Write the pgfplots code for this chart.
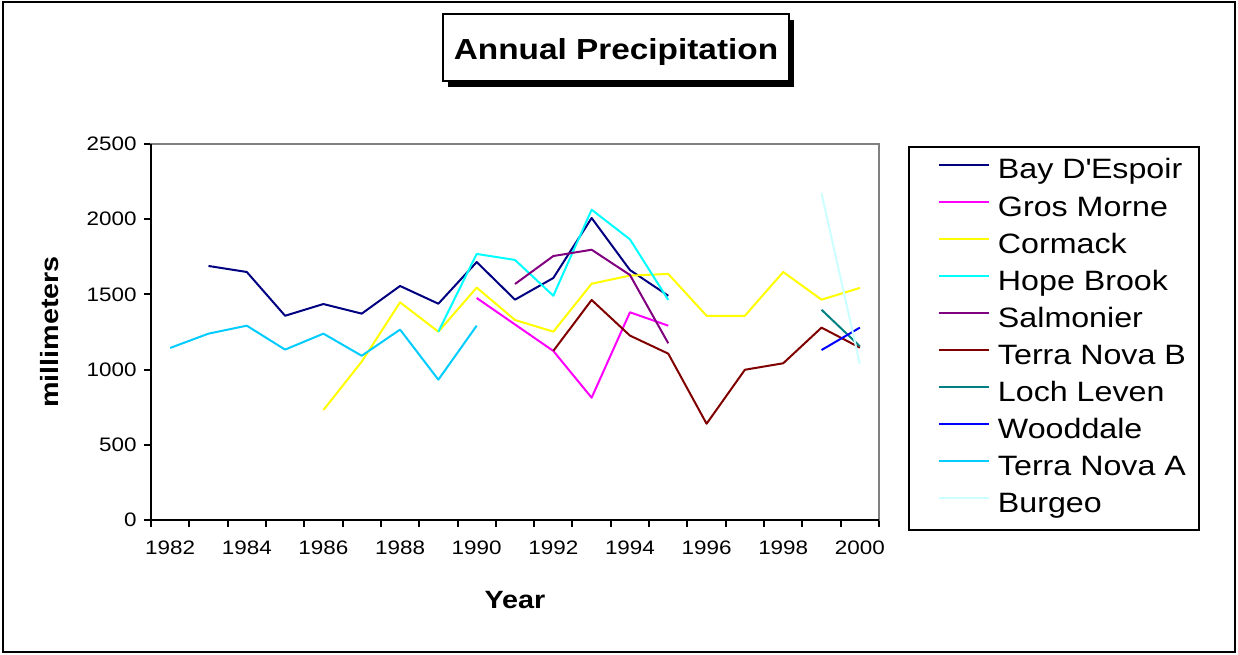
\documentclass[border=0pt]{standalone}
\usepackage{pgfplots}
\pgfplotsset{compat=1.18}
\usepackage{fontspec}
\setmainfont[FakeStretch=1.15]{Liberation Sans}

\definecolor{cBay}{HTML}{000080}
\definecolor{cGros}{HTML}{FF00FF}
\definecolor{cCormack}{HTML}{FFFF00}
\definecolor{cHope}{HTML}{00FFFF}
\definecolor{cSalm}{HTML}{800080}
\definecolor{cTNB}{HTML}{800000}
\definecolor{cLoch}{HTML}{008080}
\definecolor{cWood}{HTML}{0000FF}
\definecolor{cTNA}{HTML}{00CCFF}
\definecolor{cBurgeo}{HTML}{CCFFFF}
\definecolor{frame}{HTML}{808080}

\begin{document}
\begin{tikzpicture}
\useasboundingbox (0pt,0pt) rectangle (1238pt,655pt);
\draw[line width=2pt] (2.5pt,2.5pt) rectangle (1235pt,652.5pt);

% title box with shadow
\fill[black] (448pt,568pt) rectangle (794pt,635pt);
\draw[line width=2pt, fill=white] (443pt,574pt) rectangle (789pt,641pt);
\node[anchor=base, inner sep=0pt] at (616pt,595pt) {\fontsize{29}{34}\selectfont\bfseries Annual Precipitation};

\begin{axis}[
    at={(151pt,135pt)}, anchor=south west,
    scale only axis, width=728pt, height=376pt,
    xmin=1981.5, xmax=2000.5,
    ymin=0, ymax=2500,
    xtick={1982,1984,...,2000},
    minor xtick={1981.5,1982.5,...,2000.5},
    ytick={0,500,...,2500},
    xtick pos=bottom, ytick pos=left,
    tick align=outside,
    major tick length=7pt, minor tick length=7pt,
    tick style={black, line width=2pt},
    major x tick style={draw=none},
    axis line style={draw=frame, line width=2pt},
    /pgf/number format/1000 sep={},
    /pgf/number format/assume math mode=true,
    tick label style={font=\fontsize{19.5}{22}\selectfont},
    xticklabel style={yshift=-10pt},
    yticklabel style={xshift=-4pt},
    xlabel={Year},
    ylabel={millimeters},
    label style={font=\fontsize{25}{28}\selectfont\bfseries},
    xlabel style={at={(axis description cs:0.5,-0.213)}, anchor=center},
    ylabel style={at={(axis description cs:-0.139,0.5)}, anchor=center},
    legend cell align=left,
    legend image code/.code={
        \path (0pt,0pt);
        \draw[#1] (16pt,7pt) -- (66pt,7pt);
    },
    legend style={
        at={(1.0398,0.9947)}, anchor=north west,
        draw=black, line width=2pt, fill=white,
        inner xsep=13pt, inner ysep=6pt,
        row sep=0pt,
        font=\fontsize{28}{34}\selectfont,
        nodes={inner sep=0pt, text height=26pt, text depth=11.1pt},
        /tikz/every odd column/.append style={column sep=8pt},
    },
    after end axis/.code={
        \draw[black, line width=2pt] (rel axis cs:0,1) -- (rel axis cs:0,0) -- (rel axis cs:1,0);
    },
    every axis plot/.append style={line width=2pt, line join=round},
]

\addplot[cBay] coordinates {
    (1983,1689) (1984,1649) (1985,1358) (1986,1436) (1987,1372)
    (1988,1556) (1989,1438) (1990,1715) (1991,1465) (1992,1609)
    (1993,2008) (1994,1662) (1995,1491) };
\addlegendentry{Bay D\textquotesingle Espoir}

\addplot[cGros] coordinates {
    (1990,1476) (1991,1300) (1992,1124) (1993,813) (1994,1381) (1995,1292) };
\addlegendentry{Gros Morne}

\addplot[cCormack] coordinates {
    (1986,731) (1987,1053) (1988,1447) (1989,1252) (1990,1545)
    (1991,1330) (1992,1252) (1993,1571) (1994,1625) (1995,1636)
    (1996,1358) (1997,1358) (1998,1649) (1999,1465) (2000,1543) };
\addlegendentry{Cormack}

\addplot[cHope] coordinates {
    (1989,1252) (1990,1769) (1991,1729) (1992,1491) (1993,2063)
    (1994,1866) (1995,1463) };
\addlegendentry{Hope Brook}

\addplot[cSalm] coordinates {
    (1991,1569) (1992,1755) (1993,1797) (1994,1629) (1995,1175) };
\addlegendentry{Salmonier}

\addplot[cTNB] coordinates {
    (1992,1124) (1993,1463) (1994,1226) (1995,1106) (1996,640)
    (1997,999) (1998,1042) (1999,1279) (2000,1146) };
\addlegendentry{Terra Nova B}

\addplot[cLoch] coordinates { (1999,1398) (2000,1155) };
\addlegendentry{Loch Leven}

\addplot[cWood] coordinates { (1999,1130) (2000,1279) };
\addlegendentry{Wooddale}

\addplot[cTNA] coordinates {
    (1982,1144) (1983,1239) (1984,1292) (1985,1133) (1986,1239)
    (1987,1092) (1988,1266) (1989,933) (1990,1292) };
\addlegendentry{Terra Nova A}

\addplot[cBurgeo] coordinates { (1999,2172) (2000,1037) };
\addlegendentry{Burgeo}

\end{axis}
\end{tikzpicture}
\end{document}
